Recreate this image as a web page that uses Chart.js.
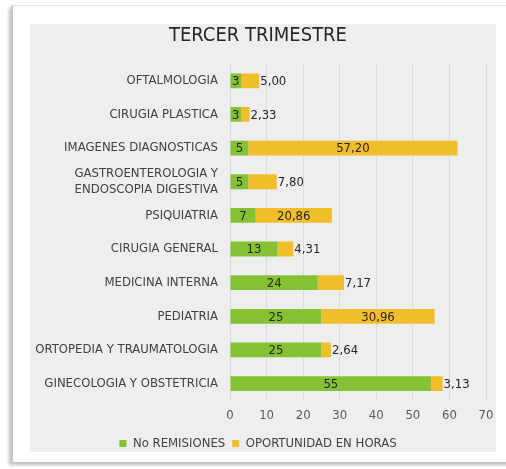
<!DOCTYPE html>
<html>
<head>
<meta charset="utf-8">
<script src="https://cdn.jsdelivr.net/npm/chart.js@4/dist/chart.umd.min.js"></script>
<style>
    html, body { margin: 0; padding: 0; background: #fff; }
    body { width: 506px; height: 469px; position: relative; overflow: hidden; }
    .frame {
        position: absolute; left: 11px; top: 5px; width: 500px; height: 456px;
        background: #fff;
        border-left: 2px solid #c8c8c8;
        border-top: 1px solid #e6e6e6;
        box-shadow: -2px 3px 3px rgba(0,0,0,0.25);
    }
    .panel {
        position: absolute; left: 30px; top: 24px; width: 466px; height: 428px;
        background: #eeeeee;
    }
</style>
</head>
<body>
<div class="frame"></div>
<div class="panel"><canvas id="chart" width="466" height="428"></canvas></div>
<script>
document.addEventListener('DOMContentLoaded', () => {
    const categories = [
        'OFTALMOLOGIA',
        'CIRUGIA PLASTICA',
        'IMAGENES DIAGNOSTICAS',
        ['GASTROENTEROLOGIA Y', 'ENDOSCOPIA DIGESTIVA'],
        'PSIQUIATRIA',
        'CIRUGIA GENERAL',
        'MEDICINA INTERNA',
        'PEDIATRIA',
        'ORTOPEDIA Y TRAUMATOLOGIA',
        'GINECOLOGIA Y OBSTETRICIA'
    ];
    const remisiones = [3, 3, 5, 5, 7, 13, 24, 25, 25, 55];
    const oportunidad = [5.00, 2.33, 57.20, 7.80, 20.86, 4.31, 7.17, 30.96, 2.64, 3.13];
    const xTicks = [0, 10, 20, 30, 40, 50, 60, 70];

    const fontFamily = '"DejaVu Sans Condensed", "DejaVu Sans", sans-serif';

    //Draw value labels: green always centred, yellow outside when it does not fit
    const valueLabels = {
        id: 'valueLabels',
        afterDatasetsDraw(chart) {
            const ctx = chart.ctx;
            ctx.save();
            ctx.font = '13px ' + fontFamily;
            ctx.fillStyle = '#262626';
            ctx.textBaseline = 'middle';
            chart.data.datasets.forEach((ds, i) => {
                const meta = chart.getDatasetMeta(i);
                meta.data.forEach((bar, j) => {
                    const v = ds.data[j];
                    const text = i === 0 ? String(v) : v.toFixed(2).replace('.', ',');
                    const w = ctx.measureText(text).width;
                    const segW = bar.x - bar.base;
                    if (i === 0 || w + 4 <= segW) {
                        ctx.textAlign = 'center';
                        ctx.fillText(text, (bar.x + bar.base) / 2, bar.y + 1);
                    } else {
                        ctx.textAlign = 'left';
                        ctx.fillText(text, bar.x + 1, bar.y + 1);
                    }
                });
            });
            ctx.restore();
        }
    };

    new Chart(document.getElementById('chart').getContext('2d'), {
        type: 'bar',
        data: {
            labels: categories,
            datasets: [{
                label: 'No REMISIONES',
                data: remisiones,
                backgroundColor: '#84c234'
            }, {
                label: 'OPORTUNIDAD EN HORAS',
                data: oportunidad,
                backgroundColor: '#f0bd2b'
            }]
        },
        options: {
            indexAxis: 'y',
            responsive: false,
            animation: false,
            layout: { padding: { left: 0, right: 10, top: 0, bottom: -8 } },
            datasets: {
                bar: { categoryPercentage: 0.44, barPercentage: 1 }
            },
            scales: {
                x: {
                    stacked: true,
                    min: 0,
                    max: 70,
                    afterBuildTicks: (scale) => { scale.ticks = xTicks.map(v => ({ value: v })); },
                    afterFit: (scale) => { scale.paddingRight = 0; scale.paddingLeft = 0; },
                    grid: { color: '#dadada', drawTicks: false },
                    border: { display: false },
                    ticks: { color: '#595959', font: { family: fontFamily, size: 13 }, padding: 7 }
                },
                y: {
                    stacked: true,
                    grid: { display: false },
                    border: { display: false },
                    afterFit: (scale) => { scale.width = 200; },
                    ticks: { color: '#404040', font: { family: fontFamily, size: 13 }, padding: 4, autoSkip: false }
                }
            },
            plugins: {
                title: {
                    display: true,
                    text: 'TERCER TRIMESTRE',
                    color: '#262626',
                    font: { family: fontFamily, size: 20, weight: 'normal' },
                    padding: { top: 0, bottom: 16 }
                },
                legend: {
                    position: 'bottom',
                    labels: {
                        color: '#404040',
                        font: { family: fontFamily, size: 13 },
                        boxWidth: 7,
                        boxHeight: 7,
                        padding: 7
                    }
                },
                tooltip: { enabled: false }
            }
        },
        plugins: [valueLabels]
    });
});
</script>
</body>
</html>
